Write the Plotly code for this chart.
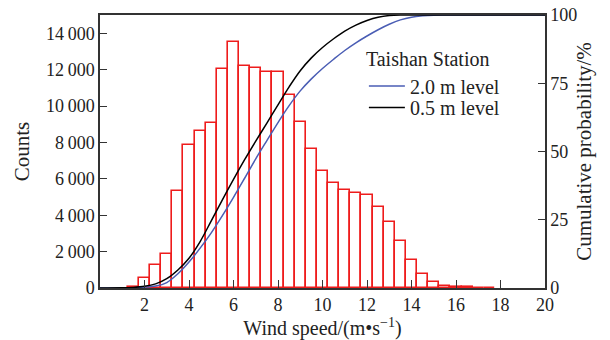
import plotly.graph_objects as go

# Histogram of wind speed (bin width 0.5 m/s)
bin_centers = [1.5, 2.0, 2.5, 3.0, 3.5, 4.0, 4.5, 5.0, 5.5, 6.0, 6.5, 7.0, 7.5, 8.0,
               8.5, 9.0, 9.5, 10.0, 10.5, 11.0, 11.5, 12.0, 12.5, 13.0, 13.5, 14.0,
               14.5, 15.0, 15.5, 16.0, 16.5, 17.0, 17.5]
counts = [60, 570, 1250, 1860, 5310, 7840, 8630, 9080, 12030, 13520, 12190, 12100,
          11890, 11890, 10620, 9110, 7640, 6410, 5750, 5360, 5220, 5110, 4460, 3600,
          2570, 1540, 750, 330, 130, 50, 30, 20, 15]

# Cumulative probability curves (%)
cum_speed = [0, 1.0, 1.5, 2.0, 2.5, 3.0, 3.5, 4.0, 4.5, 5.0, 5.5, 6.0, 6.5, 7.0, 7.5,
             8.0, 8.5, 9.0, 9.5, 10.0, 10.5, 11.0, 11.5, 12.0, 12.5, 13.0, 13.5, 14.0,
             14.5, 15.0, 15.5, 16.0, 18.0, 20.0]
cum_2m = [0, 0.02, 0.1, 0.3, 0.7, 2.0, 5.2, 9.5, 14.6, 20.2, 26.5, 33.2, 40.2, 47.3,
          54.0, 60.6, 66.8, 72.2, 76.6, 80.4, 83.8, 87.0, 89.8, 92.3, 94.6, 96.6, 98.2,
          99.2, 99.7, 99.95, 100, 100, 100, 100]
cum_05m = [0, 0.05, 0.2, 0.6, 1.5, 3.4, 6.6, 10.9, 17.0, 24.6, 32.3, 39.8, 47.0, 53.8,
           60.4, 67.1, 73.7, 79.6, 84.3, 88.1, 91.3, 94.1, 96.3, 98.0, 99.2, 99.8, 100,
           100, 100, 100, 100, 100, 100, 100]

x_ticks = [2, 4, 6, 8, 10, 12, 14, 16, 18, 20]
y_ticks = [0, 2000, 4000, 6000, 8000, 10000, 12000, 14000]
y_ticktext = ["0", "2\u2009000", "4\u2009000", "6\u2009000", "8\u2009000",
              "10\u2009000", "12\u2009000", "14\u2009000"]
y2_ticks = [0, 25, 50, 75, 100]

FONT = "Liberation Serif"
TXT = "#222222"
RED = "#ee1c1c"
BLUE = "#4a5db4"
AX = "#333333"


def f(size):
    return dict(family=FONT, size=size, color=TXT)


fig = go.Figure()
fig.add_trace(go.Bar(x=bin_centers, y=counts, width=0.5,
                     marker=dict(color="rgba(255,255,255,0)",
                                 line=dict(color=RED, width=1.6)),
                     showlegend=False, yaxis="y"))
fig.add_trace(go.Scatter(x=cum_speed, y=cum_2m, mode="lines", name="2.0 m level",
                         line=dict(color=BLUE, width=1.5, shape="spline"),
                         yaxis="y2", legend="legend"))
fig.add_trace(go.Scatter(x=cum_speed, y=cum_05m, mode="lines", name="0.5 m level",
                         line=dict(color="black", width=1.5, shape="spline"),
                         yaxis="y2", legend="legend2"))

fig.update_layout(
    width=610, height=340,
    margin=dict(l=100, r=65, t=15, b=52),
    paper_bgcolor="white", plot_bgcolor="white",
    font=f(18),
    bargap=0,
    xaxis=dict(range=[0, 20], tickvals=x_ticks, ticks="inside", ticklen=8,
               tickcolor=AX, tickwidth=1.3, tickfont=f(18),
               showline=True, linecolor=AX, linewidth=1.5, mirror=True,
               showgrid=False, zeroline=False,
               title=dict(text="Wind speed/(m\u2022s<sup>\u22121</sup>)",
                          font=f(20), standoff=3),
               automargin=False),
    yaxis=dict(range=[0, 15000], tickvals=y_ticks, ticktext=y_ticktext,
               ticks="inside", ticklen=7, tickcolor=AX, tickwidth=1.3, tickfont=f(18),
               showline=True, linecolor=AX, linewidth=1.5,
               showgrid=False, zeroline=False,
               title=dict(text="Counts", font=f(21), standoff=11),
               automargin=False),
    yaxis2=dict(range=[0, 100], tickvals=y2_ticks, overlaying="y", side="right",
                ticks="inside", ticklen=7, tickcolor=AX, tickwidth=1.3, tickfont=f(18),
                showline=True, linecolor=AX, linewidth=1.5,
                showgrid=False, zeroline=False,
                title=dict(text="Cumulative probability/%", font=f(21), standoff=0),
                automargin=False),
    legend=dict(x=0.593, y=0.907, xanchor="left", yanchor="top",
                bgcolor="rgba(0,0,0,0)", font=f(20), itemwidth=36,
                title=dict(text="Taishan Station", font=f(20))),
    legend2=dict(x=0.593, y=0.733, xanchor="left", yanchor="top",
                 bgcolor="rgba(0,0,0,0)", font=f(20), itemwidth=36),
)

fig.write_html("out.html")
